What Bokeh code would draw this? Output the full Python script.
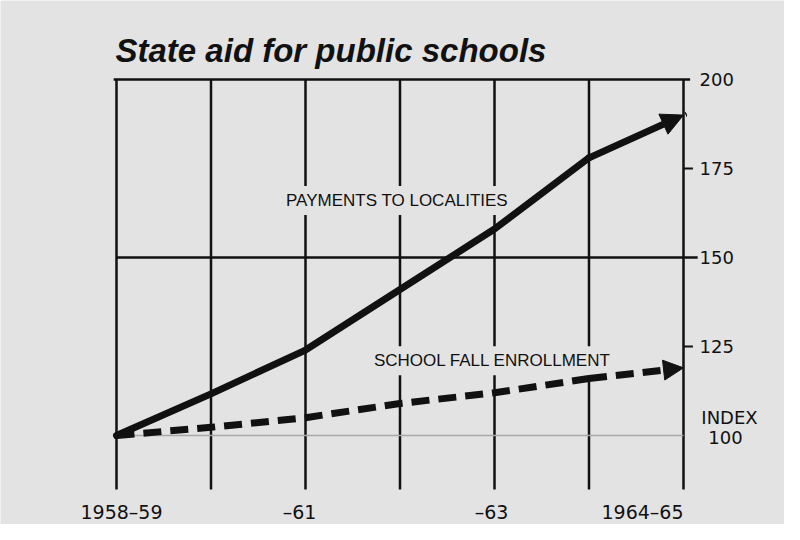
from bokeh.plotting import figure
from bokeh.models import Range1d, Arrow, NormalHead
from bokeh.embed import file_html
from bokeh.resources import INLINE
from bokeh.core.properties import value

# ---- data ----
years = ["1958–59", "1959–60", "1960–61", "1961–62", "1962–63", "1963–64", "1964–65"]
year_idx = list(range(len(years)))
payments = [100, 111.7, 124, 141, 158, 178, 190]      # payments to localities (index)
enrollment = [100, 102.3, 105, 109, 112, 116, 119]   # school fall enrollment (index)
x_tick_pos = [0, 2, 4, 6]
x_tick_labels = ["1958–59", "–61", "–63", "1964–65"]
y_ticks = [200, 175, 150, 125]
y_tick_labels = ["200", "175", "150", "125"]
title_text = "State aid for public schools"

BG = "#e3e3e3"
INK = "#111111"
NUM_FONT = value("DejaVu Sans")
LAB_FONT = value("Liberation Sans")

p = figure(width=784, height=524, output_backend="svg", toolbar_location=None,
           x_range=Range1d(-1.2275, 7.0688), y_range=Range1d(75.0, 222.19),
           x_axis_location=None, y_axis_location=None, min_border=0)
p.grid.visible = False
p.outline_line_color = None
p.background_fill_color = BG
p.border_fill_color = BG

x0, x6 = year_idx[0], year_idx[-1]
y_bottom = 84.8

# vertical grid lines (one per school year)
p.segment(x0=year_idx, y0=[y_bottom] * len(year_idx), x1=year_idx, y1=[200] * len(year_idx),
          line_color=INK, line_width=2.5)
# horizontal rules
p.segment(x0=[x0 - 0.03], y0=[200], x1=[x6 + 0.07], y1=[200], line_color=INK, line_width=2.5)
p.segment(x0=[x0], y0=[150], x1=[x6 + 0.15], y1=[150], line_color=INK, line_width=2.5)
p.segment(x0=[x0], y0=[100], x1=[x6], y1=[100], line_color="#a8a8a8", line_width=1.5)
# short outer ticks at 175 and 125
p.segment(x0=[x6, x6], y0=[175, 125], x1=[x6 + 0.1, x6 + 0.1], y1=[175, 125],
          line_color=INK, line_width=2)

# right-hand scale labels
p.text(x=[x6] * len(y_ticks), y=y_ticks, text=y_tick_labels, x_offset=16,
       text_font=NUM_FONT, text_font_size="18px", text_color=INK,
       text_align="left", text_baseline="middle")
p.text(x=[x6], y=[100], text=["INDEX"], x_offset=46, y_offset=-18,
       text_font=NUM_FONT, text_font_size="18px", text_color=INK,
       text_align="center", text_baseline="middle")
p.text(x=[x6], y=[100], text=["100"], x_offset=42, y_offset=2,
       text_font=NUM_FONT, text_font_size="18px", text_color=INK,
       text_align="center", text_baseline="middle")

# bottom year labels
p.text(x=x_tick_pos, y=[100] * len(x_tick_pos), text=x_tick_labels,
       x_offset=[5, -6, -3, 0], y_offset=77,
       text_align=["center", "center", "center", "right"],
       text_font=NUM_FONT, text_font_size="19px", text_color=INK, text_baseline="middle")

# title
p.text(x=[x0], y=[200], text=[title_text], x_offset=-1, y_offset=-29,
       text_font=value("Liberation Sans"), text_font_style="bold italic",
       text_font_size="33px", text_color=INK, text_baseline="alphabetic", text_align="left")

# inline series labels (knock out the grid behind them)
p.text(x=[3], y=[166], text=["PAYMENTS TO LOCALITIES"], x_offset=-3,
       text_font=LAB_FONT, text_font_size="17px", text_color=INK,
       text_align="center", text_baseline="middle",
       background_fill_color=BG, padding=5)
p.text(x=[4], y=[121], text=["SCHOOL FALL ENROLLMENT"], x_offset=-2,
       text_font=LAB_FONT, text_font_size="17px", text_color=INK,
       text_align="center", text_baseline="middle",
       background_fill_color=BG, padding=5)

# series lines
p.line(year_idx[:-1], payments[:-1], line_color=INK, line_width=7,
       line_cap="round", line_join="round")
p.line(year_idx[:-1], enrollment[:-1], line_color=INK, line_width=7,
       line_dash="18 9", line_join="round")

p.add_layout(Arrow(end=NormalHead(size=22, fill_color=INK, line_color=INK),
                   x_start=year_idx[-2], y_start=payments[-2],
                   x_end=year_idx[-1], y_end=payments[-1],
                   line_color=INK, line_width=7, line_cap="round"))
p.add_layout(Arrow(end=NormalHead(size=20, fill_color=INK, line_color=INK),
                   x_start=year_idx[-2], y_start=enrollment[-2],
                   x_end=year_idx[-1], y_end=enrollment[-1],
                   line_color=INK, line_width=7, line_dash="18 9"))

open("out.html", "w").write(file_html(p, INLINE))
